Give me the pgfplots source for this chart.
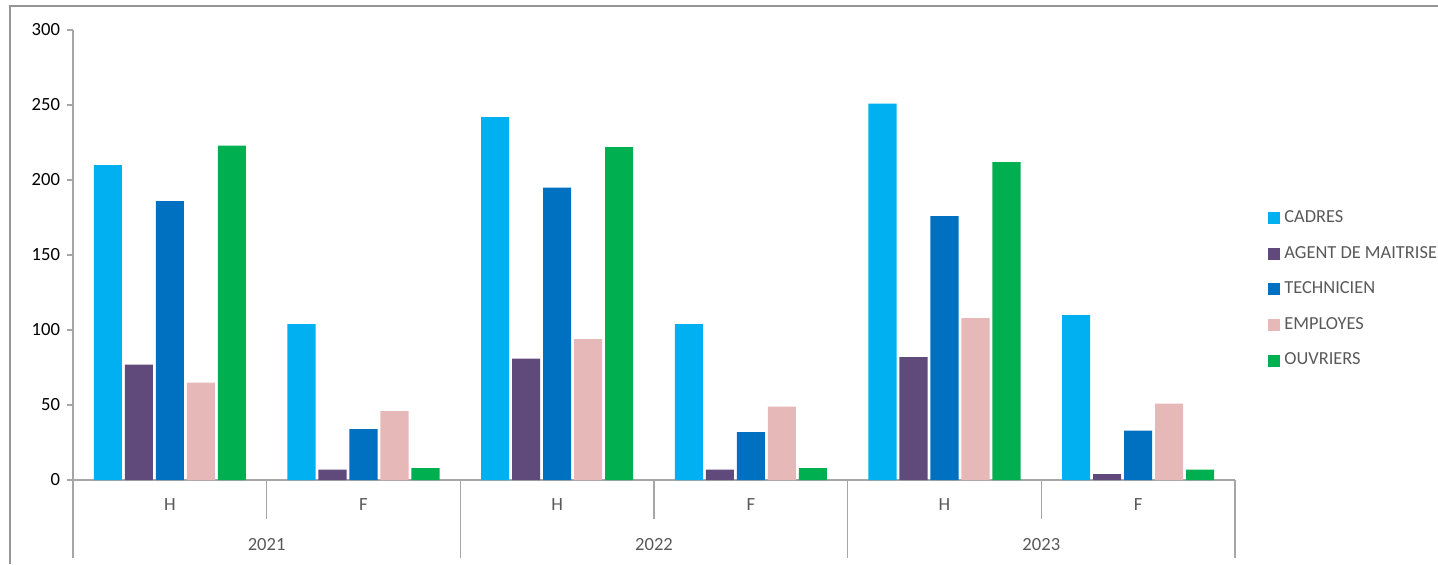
\documentclass[border=0pt]{standalone}
\usepackage{pgfplots}
\pgfplotsset{compat=1.18}
\usepackage{pgfplotstable}
\usepackage{fontspec}
\setmainfont{Carlito}
\definecolor{cCad}{HTML}{00B0F0}
\definecolor{cAgt}{HTML}{604A7B}
\definecolor{cTec}{HTML}{0070C0}
\definecolor{cEmp}{HTML}{E6B9B8}
\definecolor{cOuv}{HTML}{00B050}
\definecolor{axgray}{HTML}{A6A6A6}
\definecolor{txtgray}{HTML}{595959}
\pgfplotstableread{
x CADRES AGENT TECH EMP OUV
0 210 77 186 65 223
1 104 7 34 46 8
2 242 81 195 94 222
3 104 7 32 49 8
4 251 82 176 108 212
5 110 4 33 51 7
}\data
\begin{document}
\begin{tikzpicture}
\path[use as bounding box] (0,0) rectangle (719pt,-282pt);
\draw[color=axgray!90!black, line width=1pt] (5pt,-282pt) -- (5pt,-3pt) -- (719pt,-3pt);
\begin{axis}[
  at={(36.5pt,-240pt)}, anchor=south west,
  scale only axis, width=581pt, height=225pt,
  xmin=-0.5, xmax=5.5, ymin=0, ymax=300,
  ytick={0,50,...,300},
  xtick=\empty,
  axis x line*=bottom, axis y line*=left,
  axis line style={draw=axgray, line width=0.8pt},
  y axis line style={-}, x axis line style={-},
  tick style={draw=axgray, line width=0.8pt},
  tick align=outside, major tick length=3pt,
  font=\fontsize{9.3}{11}\selectfont,
  /pgf/number format/assume math mode=true,
  yticklabel style={text=black},
  clip=false,
  ybar, bar width=0.145,
  legend style={at={(1.0284,0.4235)}, anchor=west, draw=none, fill=none,
    inner sep=0pt, row sep=6.3pt, font=\fontsize{9.2}{11}\selectfont, text=txtgray},
  legend cell align=left,
  legend image code/.code={\fill[#1] (0pt,-3pt) rectangle (6pt,3pt);},
]
\addplot[fill=cCad, draw=none, bar shift=-0.32] table[x=x, y=CADRES] {\data};
\addlegendentry{CADRES}
\addplot[fill=cAgt, draw=none, bar shift=-0.16] table[x=x, y=AGENT] {\data};
\addlegendentry{AGENT DE MAITRISE}
\addplot[fill=cTec, draw=none, bar shift=0] table[x=x, y=TECH] {\data};
\addlegendentry{TECHNICIEN}
\addplot[fill=cEmp, draw=none, bar shift=0.16] table[x=x, y=EMP] {\data};
\addlegendentry{EMPLOYES}
\addplot[fill=cOuv, draw=none, bar shift=0.32] table[x=x, y=OUV] {\data};
\addlegendentry{OUVRIERS}
\pgfplotsinvokeforeach{-0.5,1.5,3.5,5.5}{
  \draw[axgray, line width=0.8pt] (axis cs:#1,0) -- ([yshift=-39pt]axis cs:#1,0);
}
\pgfplotsinvokeforeach{0.5,2.5,4.5}{
  \draw[axgray, line width=0.8pt] (axis cs:#1,0) -- ([yshift=-19.5pt]axis cs:#1,0);
}
\pgfplotsinvokeforeach{0,2,4}{
  \node[text=txtgray, font=\fontsize{9.3}{11}\selectfont] at (axis cs:#1,0) [yshift=-12.5pt] {H};
}
\pgfplotsinvokeforeach{1,3,5}{
  \node[text=txtgray, font=\fontsize{9.3}{11}\selectfont] at (axis cs:#1,0) [yshift=-12.5pt] {F};
}
\node[text=txtgray, font=\fontsize{9.3}{11}\selectfont] at (axis cs:0.5,0) [yshift=-32.5pt] {2021};
\node[text=txtgray, font=\fontsize{9.3}{11}\selectfont] at (axis cs:2.5,0) [yshift=-32.5pt] {2022};
\node[text=txtgray, font=\fontsize{9.3}{11}\selectfont] at (axis cs:4.5,0) [yshift=-32.5pt] {2023};
\end{axis}
\end{tikzpicture}
\end{document}
